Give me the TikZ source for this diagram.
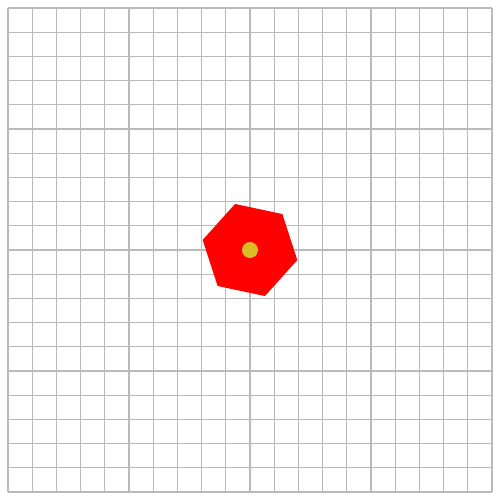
\documentclass[tikz,border=0pt]{standalone}
\usepackage{xcolor}
\usepackage{tikz}
\definecolor{dotyellow}{RGB}{214,190,36}

\begin{document}
\begin{tikzpicture}[
  minorgrid/.style={draw=black!27, line width=0.25pt},
  majorgrid/.style={draw=black!27, line width=0.5pt},
  hexfill/.style={fill=red},
  centredot/.style={fill=dotyellow}
]
\useasboundingbox (-2.066,-2.066) rectangle (2.066,2.066);
\draw[minorgrid] (-2,-2) grid[step=0.2] (2,2);
\draw[majorgrid] (-2,-2) grid[step=1] (2,2);
\fill[hexfill] (108:0.4) -- (48:0.4) -- (-12:0.4) -- (-72:0.4) -- (-132:0.4) -- (168:0.4) -- cycle;
\fill[centredot] (0,0) circle (0.066);
\end{tikzpicture}
\end{document}
